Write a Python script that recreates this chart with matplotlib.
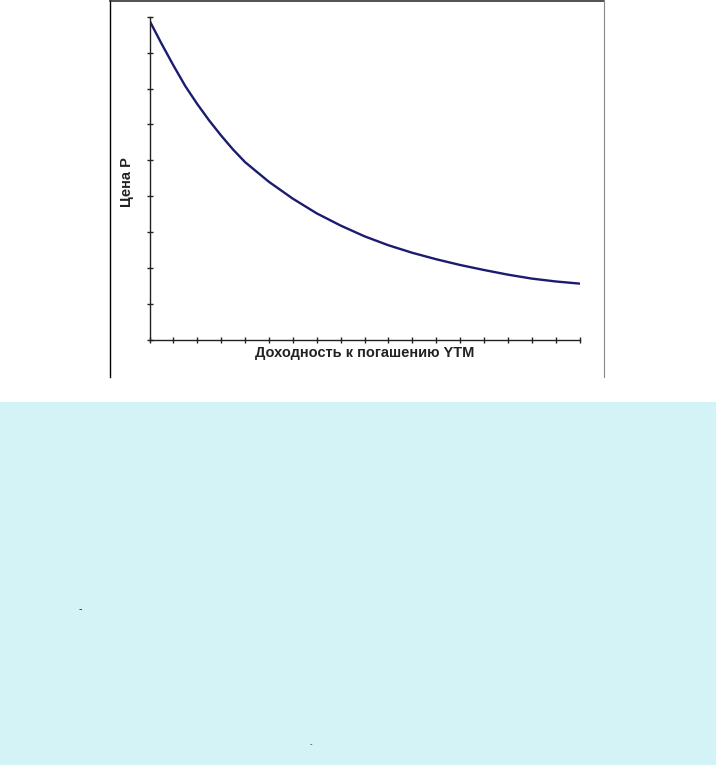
import matplotlib
matplotlib.use("Agg")
import matplotlib.pyplot as plt
from matplotlib.patches import Rectangle
from matplotlib.lines import Line2D

# Data (arbitrary units: tick index)
ytm = [0, 0.5, 1, 1.5, 2, 2.5, 3, 3.5, 4, 5, 6, 7, 8, 9, 10, 11, 12, 13, 14, 15, 16, 17, 18]
price = [8.90, 8.26, 7.65, 7.07, 6.57, 6.11, 5.69, 5.30, 4.95, 4.40, 3.93, 3.52, 3.18, 2.88,
         2.63, 2.42, 2.24, 2.08, 1.94, 1.81, 1.70, 1.62, 1.56]
x_ticks = list(range(0, 19))
y_ticks = list(range(0, 10))
x_label = "Доходность к погашению YTM"
y_label = "Цена Р"

W, H = 719, 765
fig = plt.figure(figsize=(W / 100, H / 100), dpi=100)
fig.patch.set_facecolor("white")

def fx(px):
    return px / W

def fy(py):
    return 1 - py / H

# cyan lower panel
fig.patches.append(Rectangle((0, 0), fx(716), fy(402), transform=fig.transFigure,
                             facecolor="#d3f3f6", edgecolor="none", zorder=0))

# frame around chart image
fig.lines.append(Line2D([fx(110), fx(110)], [fy(0), fy(377)], transform=fig.transFigure,
                        color="black", lw=1.0))
fig.lines.append(Line2D([fx(110), fx(604)], [fy(0.5), fy(0.5)], transform=fig.transFigure,
                        color="#333333", lw=1.2))
fig.lines.append(Line2D([fx(604), fx(604)], [fy(0), fy(377)], transform=fig.transFigure,
                        color="#888888", lw=0.8))

ax = fig.add_axes([fx(149.5), fy(339.5), (579.5 - 149.5) / W, (339.5 - 17) / H])
ax.set_facecolor("white")
ax.plot(ytm, price, color="#1b1b70", lw=1.7, solid_joinstyle="round", solid_capstyle="round")
ax.set_xlim(0, 18)
ax.set_ylim(0, 9)
ax.set_xticks(x_ticks)
ax.set_yticks(y_ticks)
ax.set_xticklabels([])
ax.set_yticklabels([])
ax.tick_params(direction="inout", length=4.5, width=1.0, color="#222222")
for s in ["top", "right"]:
    ax.spines[s].set_visible(False)
for s in ["left", "bottom"]:
    ax.spines[s].set_linewidth(1.0)
    ax.spines[s].set_color("#222222")
    ax.spines[s].set_clip_on(False)

fig.text(fx(364.5), fy(353), x_label, ha="center", va="center",
         fontsize=10.5, fontweight="bold", family="Liberation Sans", color="#222222")
fig.text(fx(127), fy(182), y_label, ha="center", va="center", rotation=90,
         fontsize=10.5, fontweight="bold", family="Liberation Sans", color="#222222")

# small stray dashes in lower panel
fig.text(fx(80), fy(609), "-", ha="center", va="center", fontsize=7, color="#222222")
fig.text(fx(311), fy(744), "-", ha="center", va="center", fontsize=5, color="#222222")

fig.savefig("out.png", dpi=100)
